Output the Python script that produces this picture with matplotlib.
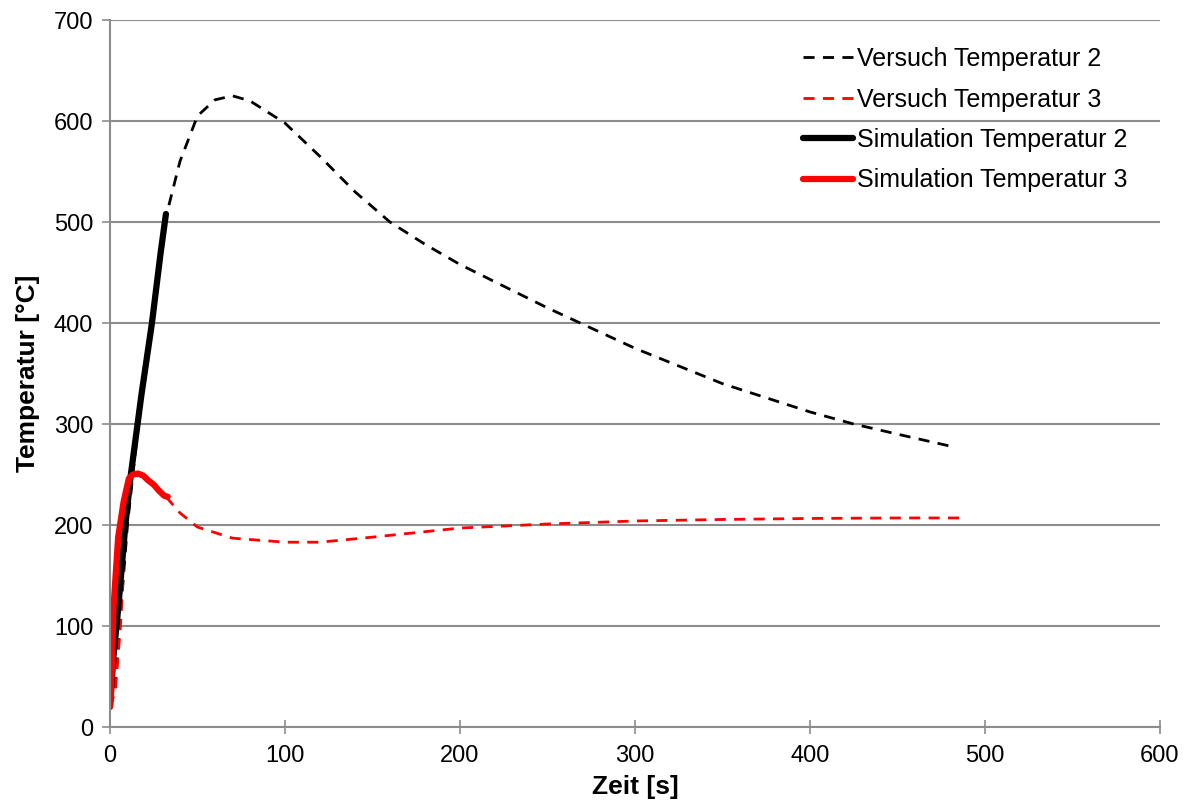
import matplotlib
matplotlib.use('Agg')
from matplotlib import pyplot as plt

plt.rcParams['font.family'] = ['Liberation Sans', 'DejaVu Sans']

# Versuch Temperatur 2 (gemessen)
t_v2 = [0, 3, 6, 10, 15, 20, 25, 32, 40, 50, 60, 70, 80, 100, 120, 140, 160, 180,
        200, 250, 300, 350, 400, 425, 450, 483]
T_v2 = [20, 40, 110, 200, 280, 360, 420, 505, 560, 605, 621, 625, 620, 598, 565, 530,
        500, 478, 458, 415, 375, 340, 312, 300, 290, 277]

# Versuch Temperatur 3 (gemessen)
t_v3 = [0, 3, 6, 9, 12, 16, 22, 30, 40, 50, 70, 100, 120, 150, 200, 250, 300, 350,
        400, 450, 490]
T_v3 = [20, 35, 100, 200, 240, 250, 245, 232, 212, 198, 187, 183, 183, 188, 197, 201,
        204, 205.5, 206.5, 207, 207]

# Simulation Temperatur 2
t_s2 = [0, 2, 4.7, 8.8, 11.8, 18, 24, 29, 32]
T_s2 = [20, 70, 117, 200, 248, 329, 400, 470, 508]

# Simulation Temperatur 3
t_s3 = [0, 0.6, 2, 4.7, 7.8, 10.8, 13, 16, 19, 22, 25, 28, 31, 33]
T_s3 = [20, 32, 117, 188, 223, 246, 250, 251, 249, 244, 240, 234, 229, 228]

fig = plt.figure(figsize=(11.86, 8.02), dpi=100)
ax = fig.add_axes([0.0927, 0.0935, 0.8853, 0.8815])

ax.plot(t_v2, T_v2, color='black', linestyle=(0, (4, 3)), linewidth=2, label='Versuch Temperatur 2')
ax.plot(t_v3, T_v3, color='red', linestyle=(0, (4, 3)), linewidth=2, label='Versuch Temperatur 3')
ax.plot(t_s2, T_s2, color='black', linewidth=4.5, solid_capstyle='round', label='Simulation Temperatur 2')
ax.plot(t_s3, T_s3, color='red', linewidth=4.5, solid_capstyle='round', label='Simulation Temperatur 3')

ax.set_xlim(0, 600)
ax.set_ylim(0, 700)
ax.set_xticks(range(0, 601, 100))
ax.set_yticks(range(0, 701, 100))
ax.grid(axis='y', color='#8c8c8c', linewidth=1.5)
ax.set_axisbelow(True)
for s in ['top', 'right']:
    ax.spines[s].set_visible(False)
for s in ['left', 'bottom']:
    ax.spines[s].set_color('#8c8c8c')
    ax.spines[s].set_linewidth(1.5)
ax.tick_params(axis='x', direction='inout', length=10, width=1.2, color='#8c8c8c', labelsize=17, pad=8)
ax.tick_params(axis='y', direction='out', length=6, width=1.2, color='#8c8c8c', labelsize=17, pad=6)

ax.set_xlabel('Zeit [s]', fontsize=19, fontweight='bold', labelpad=6)
ax.set_ylabel('Temperatur [°C]', fontsize=19, fontweight='bold', labelpad=10)

ax.legend(loc='upper left', bbox_to_anchor=(803 / 1186, 1 - 47 / 802), bbox_transform=fig.transFigure,
          frameon=False, fontsize=18, borderpad=0, borderaxespad=0,
          handlelength=2.0, handletextpad=0.15, labelspacing=0.66)

fig.savefig('out.png', dpi=100)
